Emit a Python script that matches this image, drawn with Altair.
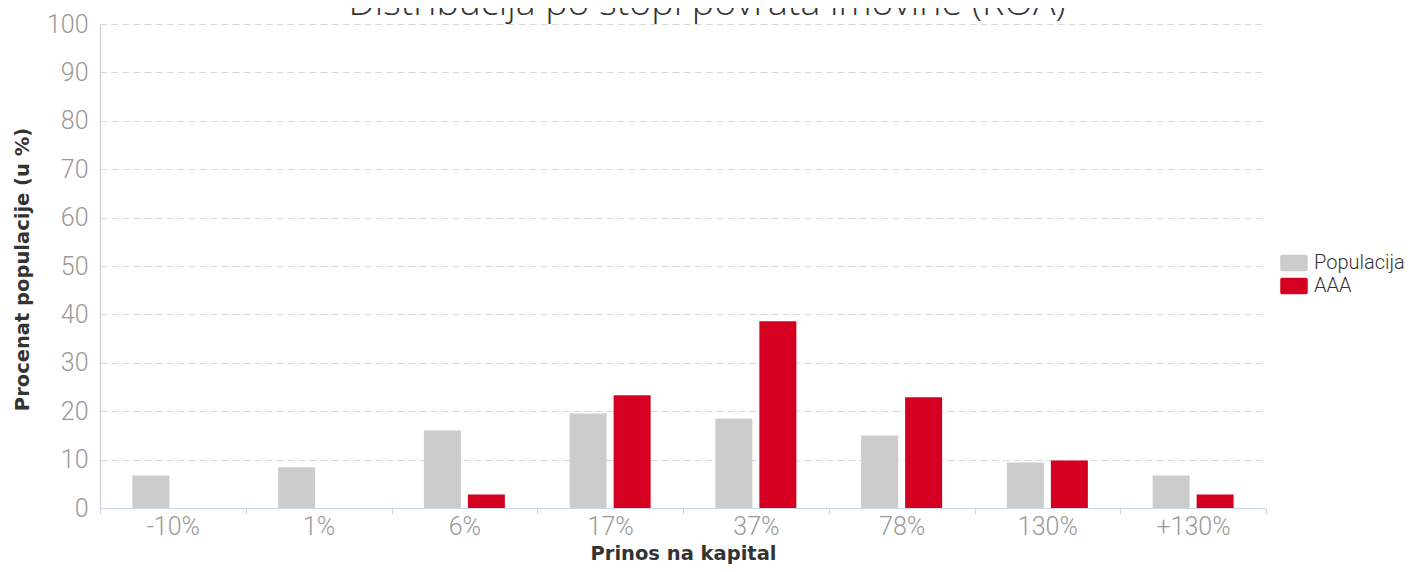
import altair as alt
import pandas as pd

TITLE = "Distribucija po stopi povrata imovine (ROA)"
categories = ["-10%", "1%", "6%", "17%", "37%", "78%", "130%", "+130%"]
series_names = ["Populacija", "AAA"]
populacija = [6.7, 8.4, 16.0, 19.5, 18.5, 15.0, 9.4, 6.7]
aaa = [0, 0, 2.8, 23.3, 38.6, 22.9, 9.8, 2.8]
colors = ["#cccccc", "#d50021"]

rows = []
for c, p, a in zip(categories, populacija, aaa):
    rows.append({"cat": c, "series": "Populacija", "value": p})
    rows.append({"cat": c, "series": "AAA", "value": a})
df = pd.DataFrame(rows)

W, H = 1166, 484
LABEL_FONT = "Roboto"
AXIS_TITLE_FONT = "DejaVu Sans"
TITLE_FONT = "Open Sans"

bars = alt.Chart(df).mark_bar().encode(
    x=alt.X(
        "cat:N",
        sort=categories,
        scale=alt.Scale(paddingInner=0, paddingOuter=0),
        axis=alt.Axis(
            title="Prinos na kapital",
            labelAngle=0,
            labelFont=LABEL_FONT,
            labelFontWeight=300,
            labelFontSize=25,
            labelColor="#999999",
            labelPadding=0,
            ticks=True,
            tickBand="extent",
            tickColor="#ccd6eb",
            tickSize=6,
            domainColor="#ccd6eb",
            grid=False,
            titleFont=AXIS_TITLE_FONT,
            titleFontWeight="bold",
            titleFontSize=19.5,
            titleColor="#333333",
            titleBaseline="middle",
            titleY=45,
        ),
    ),
    xOffset=alt.XOffset(
        "series:N",
        sort=series_names,
        scale=alt.Scale(paddingInner=0.159, paddingOuter=0.736),
    ),
    y=alt.Y(
        "value:Q",
        scale=alt.Scale(domain=[0, 100], nice=False),
        axis=alt.Axis(
            title="Procenat populacije (u %)",
            values=list(range(0, 101, 10)),
            labelFont=LABEL_FONT,
            labelFontWeight=300,
            labelFontSize=25,
            labelColor="#999999",
            labelPadding=12,
            ticks=False,
            domainColor="#cccccc",
            grid=True,
            gridColor="#d8d8d8",
            gridDash=[7, 4],
            titleFont=AXIS_TITLE_FONT,
            titleFontWeight="bold",
            titleFontSize=19.5,
            titleColor="#333333",
            titleBaseline="middle",
            titleX=-78,
            titleY=245,
        ),
    ),
    color=alt.Color(
        "series:N",
        sort=series_names,
        scale=alt.Scale(domain=series_names, range=colors),
        legend=alt.Legend(
            title=None,
            orient="none",
            legendX=1183,
            legendY=228,
            symbolType="M-1.1,-0.74H1.1Q1.25,-0.74,1.25,-0.6V0.6Q1.25,0.74,1.1,0.74H-1.1Q-1.25,0.74,-1.25,0.6V-0.6Q-1.25,-0.74,-1.1,-0.74Z",
            symbolSize=484,
            symbolStrokeWidth=0,
            labelFont=LABEL_FONT,
            labelFontWeight=300,
            labelFontSize=20,
            labelColor="#333333",
            labelOffset=9,
            rowPadding=2,
        ),
    ),
)

title = alt.Chart(alt.Data(values=[{"t": TITLE}])).mark_text(
    text=TITLE,
    font=TITLE_FONT,
    fontSize=37.5,
    fontWeight=300,
    color="#333333",
    align="center",
    baseline="alphabetic",
).encode(x=alt.value(607), y=alt.value(-9))

chart = alt.layer(bars, title).properties(
    width=W,
    height=H,
    autosize=alt.AutoSizeParams(type="none"),
    padding={"left": 92, "top": 16, "right": 141, "bottom": 56},
).configure_view(stroke=None)

chart.save("out.html", embed_options={"renderer": "svg", "actions": False})
